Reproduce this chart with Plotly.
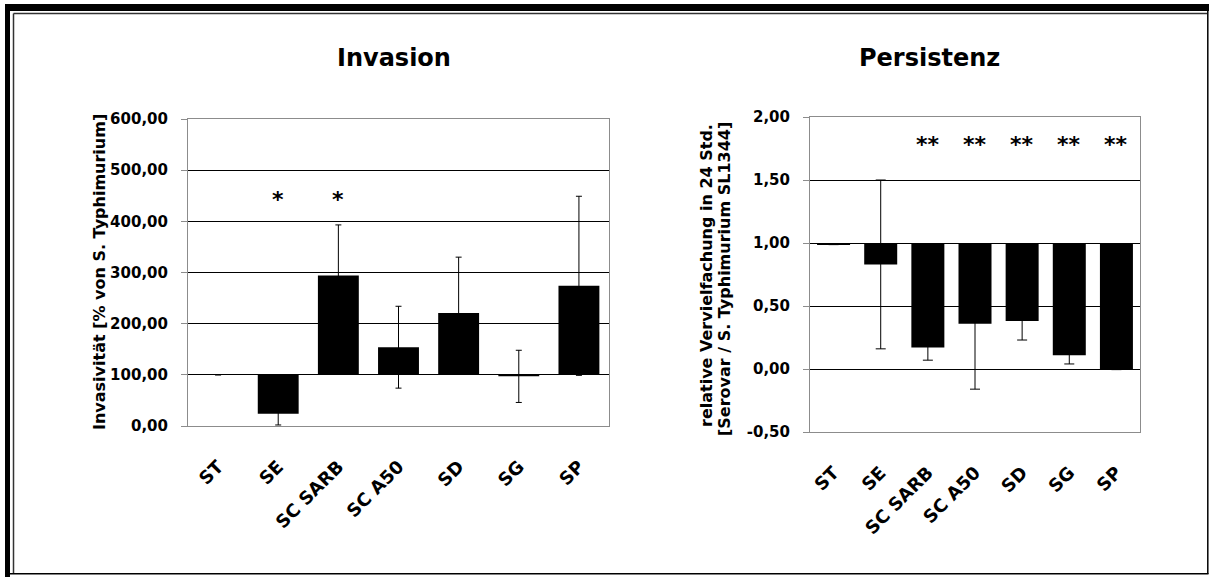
import plotly.graph_objects as go
from plotly.subplots import make_subplots

W, H = 1209, 577

categories = ["ST", "SE", "SC SARB", "SC A50", "SD", "SG", "SP"]

# Invasion (% von S. Typhimurium), bars drawn from 100
invasion = [100, 24, 294, 154, 221, 97, 274]
invasion_err = [0, 22, 99, 80, 109, 51, 175]
invasion_sig = ["", "*", "*", "", "", "", ""]
invasion_ticks = [0, 100, 200, 300, 400, 500, 600]
invasion_ticktext = ["0,00", "100,00", "200,00", "300,00", "400,00", "500,00", "600,00"]

# Persistenz (relative Vervielfachung), bars drawn from 1.00
persistenz = [0.99, 0.83, 0.17, 0.36, 0.38, 0.11, 0.00]
persistenz_err = [0.003, 0.67, 0.10, 0.52, 0.15, 0.07, 0.005]
persistenz_sig = ["", "", "**", "**", "**", "**", "**"]
persistenz_ticks = [-0.5, 0.0, 0.5, 1.0, 1.5, 2.0]
persistenz_ticktext = ["-0,50", "0,00", "0,50", "1,00", "1,50", "2,00"]

FONT = "DejaVu Sans"
GRAY = "#8c8c8c"


def px(x):
    return x / W


def py(y):
    return 1 - y / H


fig = make_subplots(rows=1, cols=2)

inv_base = 100
pers_base = 1.0

fig.add_trace(go.Bar(x=categories, y=[v - inv_base for v in invasion], base=inv_base,
                     marker=dict(color="black", line=dict(width=0)), width=0.68,
                     showlegend=False, hoverinfo="skip"), row=1, col=1)
fig.add_trace(go.Scatter(x=categories, y=invasion, mode="markers",
                         marker=dict(size=1, opacity=0),
                         error_y=dict(type="data", array=invasion_err, color="black",
                                      thickness=1, width=3),
                         showlegend=False, hoverinfo="skip"), row=1, col=1)

fig.add_trace(go.Bar(x=categories, y=[v - pers_base for v in persistenz], base=pers_base,
                     marker=dict(color="black", line=dict(width=0)), width=0.70,
                     showlegend=False, hoverinfo="skip"), row=1, col=2)
fig.add_trace(go.Scatter(x=categories, y=persistenz, mode="markers",
                         marker=dict(size=1, opacity=0),
                         error_y=dict(type="data", array=persistenz_err, color="black",
                                      thickness=1, width=5),
                         showlegend=False, hoverinfo="skip"), row=1, col=2)

xcommon = dict(type="category", showgrid=False, showline=True, linecolor=GRAY, linewidth=1,
               mirror=True, ticks="", tickangle=-45, automargin=False,
               tickfont=dict(family=FONT, size=18, color="black", weight="bold"),
               ticklabelstandoff=22, zeroline=False, range=[-0.5, 6.5])
ycommon = dict(showgrid=True, gridcolor="black", gridwidth=1, showline=True, linecolor=GRAY,
               linewidth=1, mirror=True, ticks="outside", ticklen=6, tickcolor=GRAY,
               zeroline=False, automargin=False, tickmode="array",
               tickfont=dict(family=FONT, size=15, color="black", weight="bold"),
               ticklabelstandoff=10)

fig.update_xaxes(**xcommon)
fig.update_yaxes(**ycommon)
fig.update_layout(
    xaxis=dict(domain=[px(188), px(609)]),
    yaxis=dict(domain=[py(426), py(119)], range=[0, 600],
               tickvals=invasion_ticks, ticktext=invasion_ticktext),
    xaxis2=dict(domain=[px(810), px(1140)]),
    yaxis2=dict(domain=[py(432), py(117)], range=[-0.5, 2.0],
                tickvals=persistenz_ticks, ticktext=persistenz_ticktext),
)


def ann(text, x, y, size, angle=0):
    return dict(text=text, x=px(x), y=py(y), xref="paper", yref="paper",
                xanchor="center", yanchor="middle", textangle=angle, showarrow=False,
                font=dict(family=FONT, size=size, color="black", weight="bold"))


annotations = [
    ann("Invasion", 394, 58, 24),
    ann("Persistenz", 929, 58, 24),
    ann("Invasivität [% von S. Typhimurium]", 99, 272, 16, -90),
    ann("relative Vervielfachung in 24 Std.", 706, 276, 16, -90),
    ann("[Serovar / S. Typhimurium SL1344]", 725, 279, 16, -90),
]
for c, s in zip(categories, invasion_sig):
    if s:
        annotations.append(dict(text=s, x=c, y=451, xref="x", yref="y", showarrow=False,
                                xanchor="center", yanchor="middle", yshift=-4,
                                font=dict(family=FONT, size=22, color="black", weight="bold")))
for c, s in zip(categories, persistenz_sig):
    if s:
        annotations.append(dict(text=s, x=c, y=1.81, xref="x2", yref="y2", showarrow=False,
                                xanchor="center", yanchor="middle", yshift=-4,
                                font=dict(family=FONT, size=22, color="black", weight="bold")))

shapes = [
    # thick top / left frame
    dict(type="rect", x0=px(5), x1=1, y0=py(11), y1=py(4), xref="paper", yref="paper",
         fillcolor="black", line=dict(width=0)),
    dict(type="rect", x0=px(5), x1=px(10), y0=py(577), y1=py(4), xref="paper", yref="paper",
         fillcolor="black", line=dict(width=0)),
    # inner thin lines
    dict(type="line", x0=px(13.5), x1=px(1207), y0=py(13.5), y1=py(13.5), xref="paper", yref="paper",
         line=dict(color="#333333", width=1.5)),
    dict(type="line", x0=px(13.5), x1=px(13.5), y0=py(13.5), y1=py(574), xref="paper", yref="paper",
         line=dict(color="#333333", width=1.5)),
    # right / bottom thin lines
    dict(type="line", x0=px(1207.8), x1=px(1207.8), y0=py(11), y1=py(574), xref="paper", yref="paper",
         line=dict(color="black", width=1.5)),
    dict(type="line", x0=px(10), x1=px(1208.5), y0=py(573.8), y1=py(573.8), xref="paper", yref="paper",
         line=dict(color="black", width=1.5)),
]

fig.update_layout(
    width=W, height=H, autosize=False,
    margin=dict(l=0, r=0, t=0, b=0),
    paper_bgcolor="white", plot_bgcolor="white",
    annotations=annotations,
    shapes=shapes,
    showlegend=False,
    font=dict(family=FONT, color="black"),
)

fig.write_html("out.html", config={"displayModeBar": False},
               post_script="document.body.style.margin='0';document.body.style.overflow='hidden';")
